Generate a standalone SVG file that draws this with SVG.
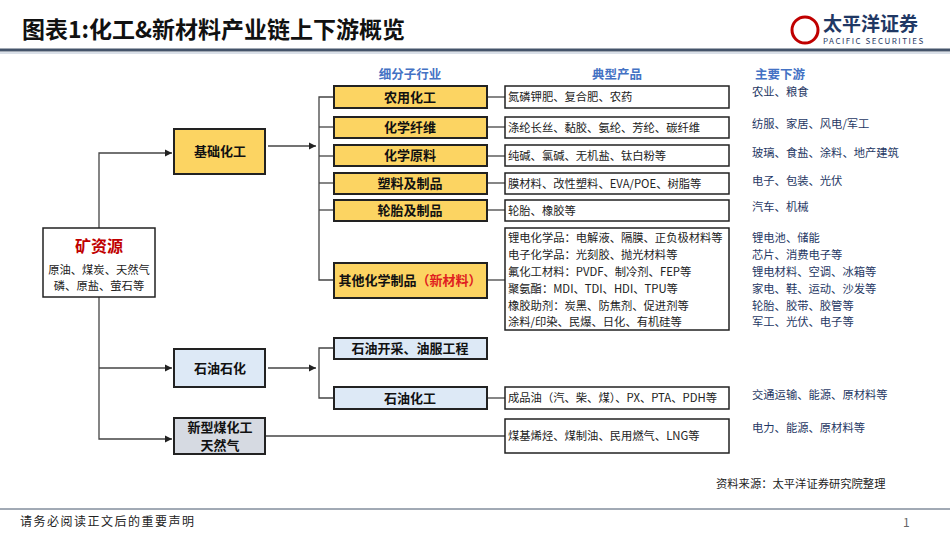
<svg xmlns="http://www.w3.org/2000/svg" width="950" height="535" viewBox="0 0 950 535">
<defs>
<marker id="ar" markerWidth="8" markerHeight="8" refX="7" refY="4" orient="auto" markerUnits="userSpaceOnUse"><path d="M0,0.5 L7,4 L0,7.5z" fill="#222"/></marker>
<style>
text{font-family:"Noto Sans CJK SC","Liberation Sans",sans-serif}
.y{fill:#fcd462;stroke:#222;stroke-width:2}
.b{fill:#dde9f6;stroke:#222;stroke-width:2}
.g{fill:#d6dae2;stroke:#222;stroke-width:2}
.w{fill:#fff;stroke:#222;stroke-width:1.5}
.n{font-size:13px;font-weight:bold;fill:#111;text-anchor:middle}
.p{font-size:11.3px;fill:#222}
.d{font-size:11.3px;fill:#1f3864}
.h{font-size:12.5px;font-weight:bold;fill:#4472c4;text-anchor:middle}
.c{fill:none;stroke:#444;stroke-width:1.3}
</style>
</defs>
<rect width="950" height="535" fill="#fff"/>
<text x="22" y="38" font-size="23" font-weight="bold" fill="#111">图表1:化工&amp;新材料产业链上下游概览</text>
<g id="logo">
<circle cx="805" cy="30" r="13" fill="none" stroke="#c00000" stroke-width="3"/>
<text x="823" y="31" font-size="19" font-weight="bold" fill="#1f3864">太平洋证券</text>
<text x="823" y="44" font-size="8" fill="#1f3864" letter-spacing="1.5" font-family="Liberation Sans,sans-serif">PACIFIC SECURITIES</text>
</g>
<line x1="0" y1="50" x2="950" y2="50" stroke="#44546a" stroke-width="3"/>
<line x1="0" y1="53" x2="950" y2="53" stroke="#b4c0d0" stroke-width="1"/>
<text class="h" x="410" y="79">细分子行业</text>
<text class="h" x="617" y="79">典型产品</text>
<text class="h" x="780" y="79">主要下游</text>
<g id="connectors">
<polyline class="c" points="99,228 99,153 172,153" marker-end="url(#ar)"/>
<polyline class="c" points="99,297 99,439 172,439" marker-end="url(#ar)"/>
<line class="c" x1="99" y1="368" x2="172" y2="368" marker-end="url(#ar)"/>
<line class="c" x1="268" y1="146" x2="316" y2="146" marker-end="url(#ar)"/>
<line class="c" x1="268" y1="368" x2="316" y2="368" marker-end="url(#ar)"/>
<polyline class="c" points="334,97 319,97 319,280 334,280"/>
<line class="c" x1="319" y1="127" x2="334" y2="127"/>
<line class="c" x1="319" y1="156" x2="334" y2="156"/>
<line class="c" x1="319" y1="183" x2="334" y2="183"/>
<line class="c" x1="319" y1="210" x2="334" y2="210"/>
<polyline class="c" points="334,348 319,348 319,398 334,398"/>
<line class="c" x1="487" y1="97" x2="505" y2="97"/>
<line class="c" x1="487" y1="127" x2="505" y2="127"/>
<line class="c" x1="487" y1="156" x2="505" y2="156"/>
<line class="c" x1="487" y1="183" x2="505" y2="183"/>
<line class="c" x1="487" y1="210" x2="505" y2="210"/>
<line class="c" x1="487" y1="280" x2="505" y2="280"/>
<line class="c" x1="487" y1="398" x2="505" y2="398"/>
<line class="c" x1="265" y1="436" x2="505" y2="436"/>
</g>
<g id="n-mine"><rect class="w" x="43" y="228" width="112" height="69"/>
<text x="99" y="252" font-size="16" font-weight="bold" fill="#c00000" text-anchor="middle">矿资源</text>
<text class="p" x="99" y="274" text-anchor="middle">原油、煤炭、天然气</text>
<text class="p" x="99" y="290" text-anchor="middle">磷、原盐、萤石等</text></g>
<g id="n-jc"><rect class="y" x="174" y="129" width="91" height="45"/><text class="n" x="220" y="156" font-size="14">基础化工</text></g>
<g id="n-sy"><rect class="b" x="174" y="349" width="91" height="38"/><text class="n" x="220" y="373" font-size="14">石油石化</text></g>
<g id="n-mh"><rect class="g" x="174" y="418" width="91" height="36"/><text class="n" x="220" y="432" font-size="12.5">新型煤化工</text><text class="n" x="220" y="450" font-size="12.5">天然气</text></g>
<g id="n-ny"><rect class="y" x="334" y="86" width="153" height="22"/><text class="n" x="410" y="102">农用化工</text></g>
<g id="n-xw"><rect class="y" x="334" y="117" width="153" height="21"/><text class="n" x="410" y="132">化学纤维</text></g>
<g id="n-yl"><rect class="y" x="334" y="145" width="153" height="21"/><text class="n" x="410" y="160">化学原料</text></g>
<g id="n-sl"><rect class="y" x="334" y="173" width="153" height="21"/><text class="n" x="410" y="188">塑料及制品</text></g>
<g id="n-lt"><rect class="y" x="334" y="200" width="153" height="21"/><text class="n" x="410" y="215">轮胎及制品</text></g>
<g id="n-qt"><rect class="y" x="334" y="263" width="153" height="35"/><text class="n" x="410" y="285">其他化学制品<tspan fill="#e02020">（新材料）</tspan></text></g>
<g id="n-kc"><rect class="b" x="334" y="338" width="153" height="21"/><text class="n" x="410" y="353">石油开采、油服工程</text></g>
<g id="n-hg"><rect class="b" x="334" y="387" width="153" height="22"/><text class="n" x="410" y="403">石油化工</text></g>
<g id="p1"><rect class="w" x="505" y="86" width="224" height="22"/><text class="p" x="508" y="101">氮磷钾肥、复合肥、农药</text></g>
<g id="p2"><rect class="w" x="505" y="117" width="224" height="21"/><text class="p" x="508" y="132">涤纶长丝、黏胶、氨纶、芳纶、碳纤维</text></g>
<g id="p3"><rect class="w" x="505" y="145" width="224" height="21"/><text class="p" x="508" y="160">纯碱、氯碱、无机盐、钛白粉等</text></g>
<g id="p4"><rect class="w" x="505" y="173" width="224" height="21"/><text class="p" x="508" y="188">膜材料、改性塑料、EVA/POE、树脂等</text></g>
<g id="p5"><rect class="w" x="505" y="200" width="224" height="21"/><text class="p" x="508" y="215">轮胎、橡胶等</text></g>
<g id="p6"><rect class="w" x="505" y="228" width="224" height="102"/>
<text class="p" x="508" y="242">锂电化学品：电解液、隔膜、正负极材料等</text>
<text class="p" x="508" y="259">电子化学品：光刻胶、抛光材料等</text>
<text class="p" x="508" y="276">氟化工材料：PVDF、制冷剂、FEP等</text>
<text class="p" x="508" y="293">聚氨酯：MDI、TDI、HDI、TPU等</text>
<text class="p" x="508" y="310">橡胶助剂：炭黑、防焦剂、促进剂等</text>
<text class="p" x="508" y="326">涂料/印染、民爆、日化、有机硅等</text></g>
<g id="p7"><rect class="w" x="505" y="387" width="224" height="22"/><text class="p" x="508" y="402">成品油（汽、柴、煤）、PX、PTA、PDH等</text></g>
<g id="p8"><rect class="w" x="505" y="419" width="224" height="34"/><text class="p" x="508" y="440">煤基烯烃、煤制油、民用燃气、LNG等</text></g>
<g id="down">
<text class="d" x="752" y="96">农业、粮食</text>
<text class="d" x="752" y="128">纺服、家居、风电/军工</text>
<text class="d" x="752" y="157">玻璃、食盐、涂料、地产建筑</text>
<text class="d" x="752" y="185">电子、包装、光伏</text>
<text class="d" x="752" y="211">汽车、机械</text>
<text class="d" x="752" y="242">锂电池、储能</text>
<text class="d" x="752" y="259">芯片、消费电子等</text>
<text class="d" x="752" y="276">锂电材料、空调、冰箱等</text>
<text class="d" x="752" y="293">家电、鞋、运动、沙发等</text>
<text class="d" x="752" y="310">轮胎、胶带、胶管等</text>
<text class="d" x="752" y="326">军工、光伏、电子等</text>
<text class="d" x="752" y="399">交通运输、能源、原材料等</text>
<text class="d" x="752" y="432">电力、能源、原材料等</text>
</g>
<text x="716" y="488" font-size="11.3" fill="#222">资料来源：太平洋证券研究院整理</text>
<line x1="0" y1="509" x2="950" y2="509" stroke="#44546a" stroke-width="1"/>
<text x="20" y="526" font-size="12" fill="#222" letter-spacing="1.5">请务必阅读正文后的重要声明</text>
<text x="903" y="527" font-size="12" fill="#666">1</text>
</svg>
